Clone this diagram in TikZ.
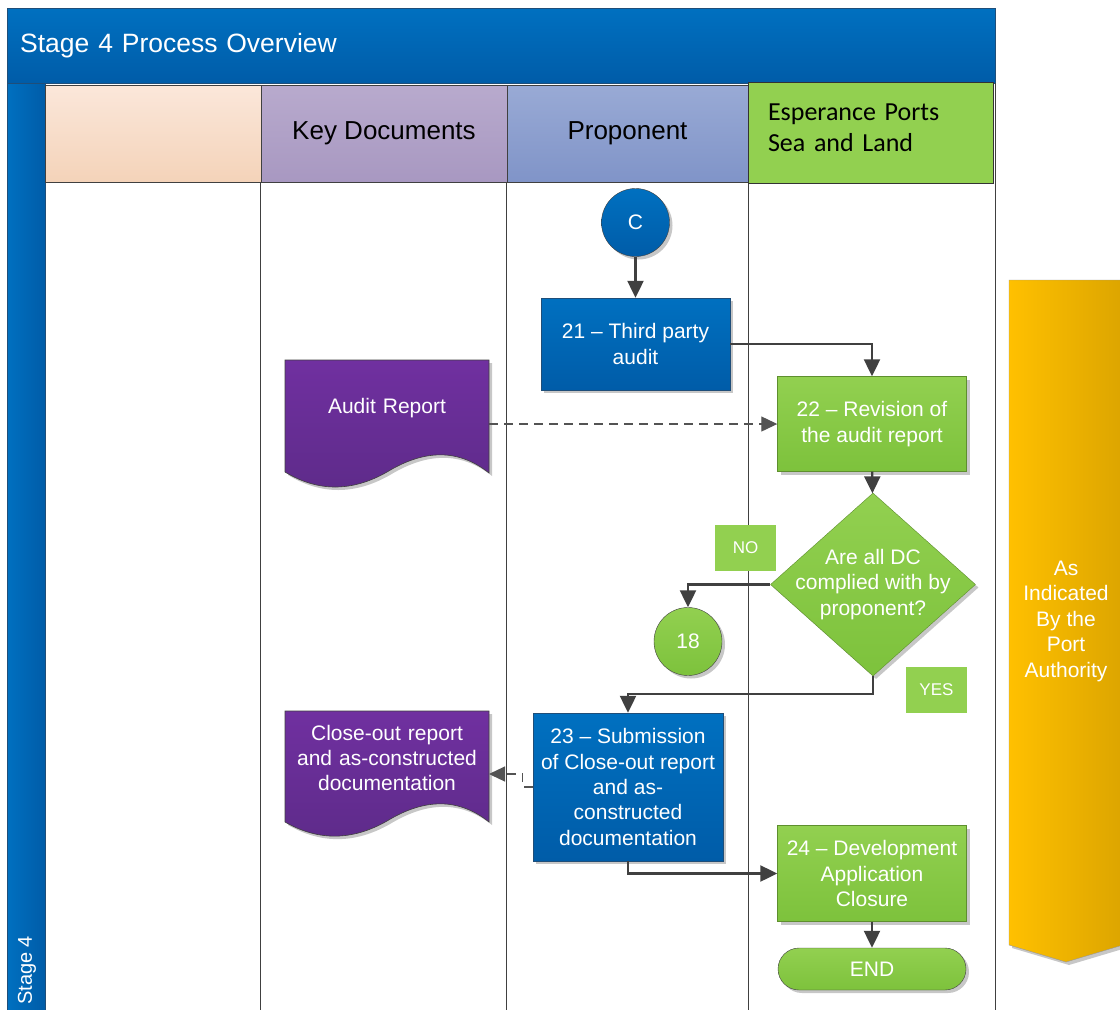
\documentclass[tikz,border=0pt]{standalone}
\usepackage{fontspec}
\setmainfont{Liberation Sans}
\newfontfamily\carlito{Carlito}
\usetikzlibrary{arrows.meta,shapes.geometric,shadows}

\definecolor{stageblue}{HTML}{0070C0}
\definecolor{stagebluedark}{HTML}{005CA8}
\definecolor{frameblue}{HTML}{1F4E79}
\definecolor{procgreen}{HTML}{92D050}
\definecolor{procgreendark}{HTML}{7DC23C}
\definecolor{greenborder}{HTML}{5E8F2E}
\definecolor{docpurple}{HTML}{7030A0}
\definecolor{docpurpledark}{HTML}{5E2B8A}
\definecolor{peachtop}{HTML}{FBE7DA}
\definecolor{peachbot}{HTML}{F4D3B9}
\definecolor{lilactop}{HTML}{B8AACD}
\definecolor{lilacbot}{HTML}{A898C1}
\definecolor{periwtop}{HTML}{99AAD5}
\definecolor{periwbot}{HTML}{8094C8}
\definecolor{ambertop}{HTML}{FFC000}
\definecolor{amberbot}{HTML}{DCA500}
\definecolor{linegray}{HTML}{404040}

\newcommand{\titlefont}{\fontsize{26.5}{31}\selectfont}
\newcommand{\headfont}{\fontsize{26}{31}\selectfont}
\newcommand{\boxfont}{\fontsize{21}{25.3}\selectfont}
\newcommand{\tagfont}{\fontsize{17}{20}\selectfont}

\tikzstyle{boxshadow} = [drop shadow={shadow xshift=3pt, shadow yshift=-3pt, opacity=.22, fill=black}]
\tikzstyle{titlebar} = [rectangle, draw=frameblue, top color=stageblue, bottom color=stagebluedark, text=white, font=\titlefont, minimum height=75pt, text width=962pt, inner xsep=13pt, align=left]
\tikzstyle{stagebar} = [rectangle, draw=frameblue, left color=stageblue, right color=stagebluedark, minimum width=38pt, minimum height=927pt]
\tikzstyle{lanehead} = [rectangle, draw=linegray, line width=1pt, font=\headfont, minimum height=97pt, align=center]
\tikzstyle{bluebox} = [rectangle, draw=frameblue, top color=stageblue, bottom color=stagebluedark, text=white, font=\boxfont, align=center, boxshadow]
\tikzstyle{greenbox} = [rectangle, draw=greenborder, top color=procgreen, bottom color=procgreendark, text=white, font=\boxfont, align=center, boxshadow]
\tikzstyle{bluecirc} = [circle, draw=linegray, top color=stageblue, bottom color=stagebluedark, text=white, font=\boxfont, minimum size=68pt, inner sep=0pt, boxshadow]
\tikzstyle{greencirc} = [circle, draw=linegray, top color=procgreen, bottom color=procgreendark, text=white, font=\boxfont, minimum size=68pt, inner sep=0pt, boxshadow]
\tikzstyle{decision} = [diamond, draw=greenborder, top color=procgreen, bottom color=procgreendark, minimum width=205pt, minimum height=183pt, inner sep=0pt, boxshadow]
\tikzstyle{dectext} = [text=white, font=\boxfont, align=center]
\tikzstyle{terminal} = [rectangle, rounded corners=21pt, draw=linegray, top color=procgreen, bottom color=procgreendark, text=white, font=\boxfont, minimum width=188pt, minimum height=42pt, boxshadow]
\tikzstyle{tag} = [rectangle, fill=procgreen, text=white, font=\tagfont, minimum width=61pt, minimum height=46pt]
\tikzstyle{docshape} = [draw=linegray, line width=.6pt, top color=docpurple, bottom color=docpurpledark, boxshadow]
\tikzstyle{doctext} = [text=white, font=\boxfont, align=center, text width=186pt, inner xsep=9pt]
\tikzstyle{laneline} = [draw=linegray, line width=1.3pt]
\tikzstyle{flow} = [draw=linegray, line width=2.2pt, -{Triangle[length=17pt,width=16pt]}]
\tikzstyle{docflow} = [draw=linegray!90, line width=1.2pt, dash pattern=on 9pt off 6pt, -{Triangle[length=16pt,width=15pt]}]

\begin{document}
\begin{tikzpicture}[x=1pt,y=-1pt]
	\useasboundingbox (0,0) rectangle (1120,1010);
	\fill[white] (0,0) rectangle (1120,1010);
	
	% frame and lanes
	\node[titlebar, anchor=north west] (title) at (7,8) {Stage 4 Process Overview};
	\node[stagebar, anchor=north west] (stage) at (7,83) {};
	\node[rotate=90, anchor=west, text=white, font=\fontsize{20}{24}\selectfont, inner sep=0pt] (stagelabel) at (27,1005) {Stage 4};
	\node[lanehead, top color=peachtop, bottom color=peachbot, minimum width=216pt] (lane0) at (153,133.5) {};
	\node[lanehead, top color=lilactop, bottom color=lilacbot, minimum width=246pt] (lane1) at (384,133.5) {Key Documents};
	\node[lanehead, top color=periwtop, bottom color=periwbot, minimum width=241pt] (lane2) at (627.5,133.5) {Proponent};
	\foreach \l in {lane1,lane2}
		\draw[laneline] (\l.south west) -- (\l.south west |- 0,1010);
	\draw[laneline] (lane2.south east) -- (lane2.south east |- 0,1010);
	\draw[laneline] (title.south east) -- (title.south east |- 0,1010);
	\node[lanehead, fill=procgreen, draw=black!80, minimum width=245pt, minimum height=101pt,
		label={[yshift=5pt, text width=205pt, align=left, font={\headfont\carlito}]center:{Esperance Ports\\Sea and Land}}] (lane3) at (870.5,132.5) {};
	
	% side arrow
	\shade[left color=ambertop, right color=amberbot, draw=black!40, boxshadow] (1009,280) -- (1123,280) -- (1123,945) -- (1066,962) -- (1009,945) -- cycle;
	\node[dectext, font=\fontsize{21}{25.5}\selectfont] (authority) at (1066,621) {As\\Indicated\\By the\\Port\\Authority};
	
	% documents
	\shade[docshape] (285,360) -- (489,360) -- (489,473) .. controls (455,446) and (420,452) .. (387,472) .. controls (352,492) and (318,492) .. (285,472) -- cycle;
	\node[doctext] (audit) at (387,408) {Audit Report};
	\shade[docshape] (285,711) -- (489,711) -- (489,822) .. controls (455,795) and (420,801) .. (387,821) .. controls (352,841) and (318,841) .. (285,822) -- cycle;
	\node[doctext] (closeout) at (387,758) {Close-out report\\and as-constructed\\documentation};
	\coordinate (closein) at (489,774);
	
	% process
	\node[bluecirc] (c) at (635.5,222.5) {C};
	\node[bluebox, minimum width=189pt, minimum height=92pt] (t21) at (635.5,344) {21 – Third party\\audit};
	\node[greenbox, minimum width=189pt, minimum height=95pt] (t22) at (872,424) {22 – Revision of\\the audit report};
	\node[decision, label={[dectext]center:{Are all DC\\complied with by\\proponent?}}] (dec) at (873,584.5) {};
	\node[tag] (no) at (745.5,548) {NO};
	\node[greencirc] (n18) at (688,641.5) {18};
	\node[tag] (yes) at (936.5,690) {YES};
	\node[bluebox, minimum width=190pt, minimum height=148pt] (t23) at (628,787) {23 – Submission\\of Close-out report\\and as-\\constructed\\documentation};
	\node[greenbox, minimum width=189pt, minimum height=96pt] (t24) at (872,873.5) {24 – Development\\Application\\Closure};
	\node[terminal] (end) at (872,969) {END};
	
	% connectors
	\draw[flow] (c) -- (t21);
	\draw[flow] (t21.east) -| (t22.north);
	\draw[docflow] (audit.east |- t22.west) -- (t22.west);
	\draw[flow] (t22) -- (dec);
	\draw[flow] (dec.west) -| (n18.north);
	\draw[flow] (dec.south) -- ++(0,18) -| (t23.north);
	\draw[docflow] (t23.west) -- ++(-10,0) |- (closein);
	\draw[flow] (t23.south) |- (t24.west);
	\draw[flow] (t24) -- (end);
\end{tikzpicture}
\end{document}
